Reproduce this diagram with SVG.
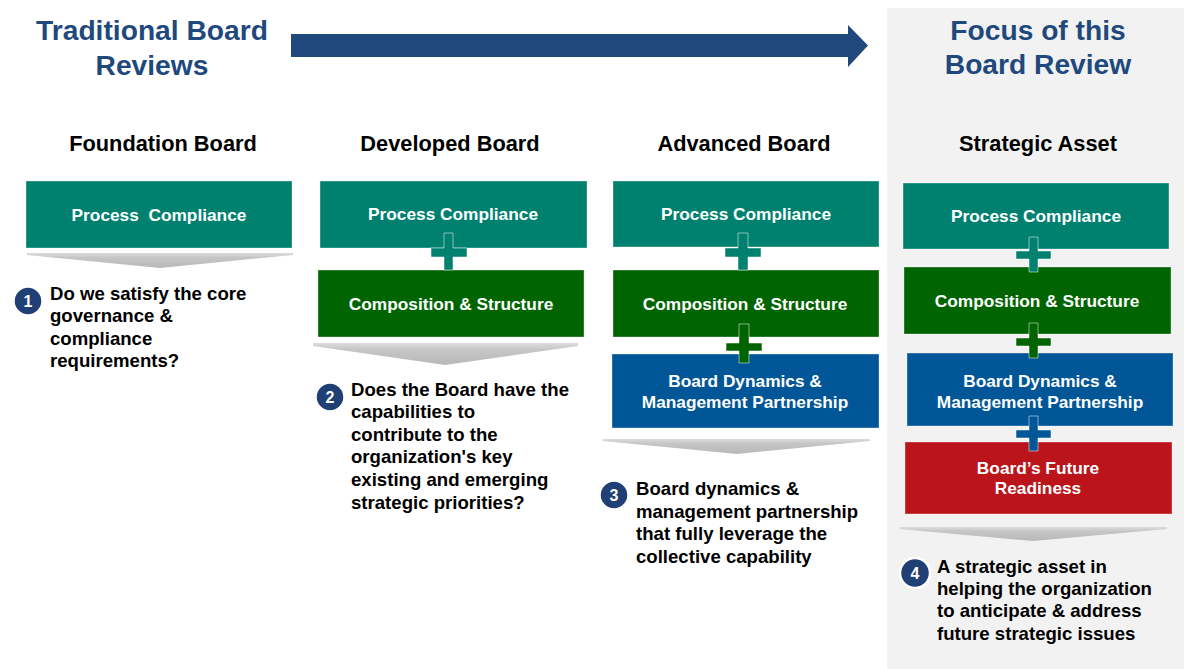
<svg xmlns="http://www.w3.org/2000/svg" width="1184" height="669" viewBox="0 0 1184 669">
<defs>
<linearGradient id="chev" x1="0" y1="0" x2="0" y2="1">
<stop offset="0" stop-color="#dcdcdc"/>
<stop offset="0.3" stop-color="#c6c6c6"/>
<stop offset="1" stop-color="#b8b8b8"/>
</linearGradient>
<style>
.title{font-family:"Liberation Sans",Arial,sans-serif;font-weight:bold;font-size:28.2px;fill:#1f497d;text-anchor:middle}
.head{font-family:"Liberation Sans",Arial,sans-serif;font-weight:bold;font-size:21.8px;fill:#000;text-anchor:middle}
.btxt{font-family:"Liberation Sans",Arial,sans-serif;font-weight:bold;font-size:17.3px;fill:#fff;text-anchor:middle;white-space:pre}
.body{font-family:"Liberation Sans",Arial,sans-serif;font-weight:bold;font-size:18.6px;fill:#000}
.num{font-family:"Liberation Sans",Arial,sans-serif;font-weight:bold;font-size:16px;fill:#fff;text-anchor:middle}
.teal{fill:#00816f}
.green{fill:#006400}
.blue{fill:#005697}
.red{fill:#bb141a}
.box{stroke:#ffffff;stroke-opacity:0.35;stroke-width:1}
.plus{stroke:#ffffff;stroke-opacity:0.5;stroke-width:1}
.chev{fill:url(#chev)}
.circ{fill:#203f74;stroke:#ffffff;stroke-width:2.5}
</style>
</defs>
<rect x="887" y="8" width="297" height="661" fill="#f2f2f2"/>

<g id="titles">
<text class="title" x="152" y="40">Traditional Board</text>
<text class="title" x="152" y="75">Reviews</text>
<text class="title" x="1038" y="40">Focus of this</text>
<text class="title" x="1038" y="74">Board Review</text>
</g>

<g id="connectors">
<polygon points="291,34 848,34 848,25 868,45.5 848,67 848,57 291,57" fill="#1f497d"/>
</g>

<g id="col1">
<text class="head" x="163" y="151">Foundation Board</text>
<rect class="teal box" x="26" y="181" width="266" height="67"/>
<text class="btxt" x="159" y="221">Process  Compliance</text>
<polygon class="chev" points="27,253 293,253 293,255 160,268 27,255"/>
<circle class="circ" cx="28" cy="301" r="14.5"/>
<text class="num" x="28" y="307">1</text>
<text class="body" x="50" y="300">Do we satisfy the core</text>
<text class="body" x="50" y="322">governance &amp;</text>
<text class="body" x="50" y="345">compliance</text>
<text class="body" x="50" y="367">requirements?</text>
</g>

<g id="col2">
<text class="head" x="450" y="151">Developed Board</text>
<rect class="teal box" x="320" y="181" width="267" height="67"/>
<text class="btxt" x="453" y="220">Process Compliance</text>
<rect class="green box" x="318" y="270" width="266" height="67"/>
<text class="btxt" x="451" y="310">Composition &amp; Structure</text>
<path class="teal plus" d="M444,233 H453 V248 H467 V257 H453 V270 H444 V257 H431 V248 H444 Z"/>
<polygon class="chev" points="313,343 578,343 578,346 445,365 313,346"/>
<circle class="circ" cx="330" cy="397" r="14.5"/>
<text class="num" x="330" y="403">2</text>
<text class="body" x="351" y="396">Does the Board have the</text>
<text class="body" x="351" y="418">capabilities to</text>
<text class="body" x="351" y="441">contribute to the</text>
<text class="body" x="351" y="463">organization's key</text>
<text class="body" x="351" y="486">existing and emerging</text>
<text class="body" x="351" y="509">strategic priorities?</text>
</g>

<g id="col3">
<text class="head" x="744" y="151">Advanced Board</text>
<rect class="teal box" x="613" y="181" width="266" height="66"/>
<text class="btxt" x="746" y="220">Process Compliance</text>
<rect class="green box" x="613" y="270" width="266" height="67"/>
<text class="btxt" x="745" y="310">Composition &amp; Structure</text>
<rect class="blue box" x="612" y="354" width="267" height="74"/>
<text class="btxt" x="745" y="387">Board Dynamics &amp;</text>
<text class="btxt" x="745" y="408">Management Partnership</text>
<path class="teal plus" d="M738,233 H748 V248 H761 V257 H748 V270 H738 V257 H725 V248 H738 Z"/>
<path class="green plus" d="M739,324 H749 V343 H762 V351 H749 V363 H739 V351 H726 V343 H739 Z"/>
<polygon class="chev" points="603,439 870,439 870,441 737,454 603,441"/>
<circle class="circ" cx="614" cy="495" r="14.5"/>
<text class="num" x="614" y="501">3</text>
<text class="body" x="636" y="495">Board dynamics &amp;</text>
<text class="body" x="636" y="518">management partnership</text>
<text class="body" x="636" y="540">that fully leverage the</text>
<text class="body" x="636" y="563">collective capability</text>
</g>

<g id="col4">
<text class="head" x="1038" y="151">Strategic Asset</text>
<rect class="teal box" x="903" y="183" width="266" height="66"/>
<text class="btxt" x="1036" y="222">Process Compliance</text>
<rect class="green box" x="904" y="267" width="267" height="67"/>
<text class="btxt" x="1037" y="307">Composition &amp; Structure</text>
<rect class="blue box" x="907" y="353" width="266" height="73"/>
<text class="btxt" x="1040" y="387">Board Dynamics &amp;</text>
<text class="btxt" x="1040" y="408">Management Partnership</text>
<rect class="red box" x="905" y="442" width="267" height="72"/>
<text class="btxt" x="1038" y="474">Board’s Future</text>
<text class="btxt" x="1038" y="494">Readiness</text>
<path class="teal plus" d="M1029,237 H1038 V251 H1051 V259 H1038 V272 H1029 V259 H1016 V251 H1029 Z"/>
<path class="green plus" d="M1029,323 H1038 V338 H1051 V346 H1038 V358 H1029 V346 H1016 V338 H1029 Z"/>
<path class="blue plus" d="M1029,416 H1038 V430 H1051 V438 H1038 V451 H1029 V438 H1016 V430 H1029 Z"/>
<polygon class="chev" points="900,527 1167,527 1167,529 1033,541 900,529"/>
<circle class="circ" cx="915" cy="573" r="15"/>
<text class="num" x="915" y="579">4</text>
<text class="body" x="937" y="573">A strategic asset in</text>
<text class="body" x="937" y="595">helping the organization</text>
<text class="body" x="937" y="617">to anticipate &amp; address</text>
<text class="body" x="937" y="640">future strategic issues</text>
</g>
</svg>
